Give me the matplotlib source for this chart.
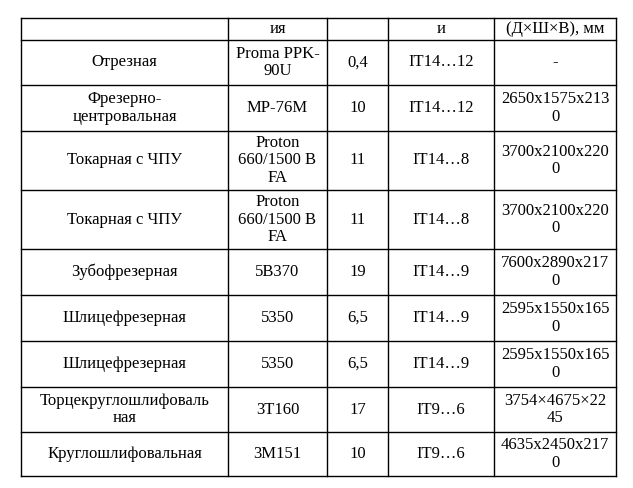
import matplotlib
matplotlib.use("Agg")
import matplotlib.pyplot as plt

plt.rcParams['font.family'] = ['Liberation Serif', 'DejaVu Serif']

header = ["", "ия", "", "и", "(Д×Ш×В), мм"]
names = ["Отрезная", "Фрезерно-\nцентровальная", "Токарная с ЧПУ", "Токарная с ЧПУ",
         "Зубофрезерная", "Шлицефрезерная", "Шлицефрезерная",
         "Торцекруглошлифоваль\nная", "Круглошлифовальная"]
models = ["Proma PPK-\n90U", "МР-76М", "Proton\n660/1500 B\nFA", "Proton\n660/1500 B\nFA",
          "5В370", "5350", "5350", "3Т160", "3М151"]
power = ["0,4", "10", "11", "11", "19", "6,5", "6,5", "17", "10"]
accuracy = ["IT14…12", "IT14…12", "IT14…8", "IT14…8", "IT14…9", "IT14…9", "IT14…9",
            "IT9…6", "IT9…6"]
dims = ["-", "2650x1575x213\n0", "3700x2100x220\n0", "3700x2100x220\n0",
        "7600x2890x217\n0", "2595x1550x165\n0", "2595x1550x165\n0",
        "3754×4675×22\n45", "4635x2450x217\n0"]

# layout in pixels
col_x = [21, 228, 327, 388, 494, 616]
row_y = [18, 40, 85, 131, 190, 249, 295, 341, 387, 432, 476]

fig = plt.figure(figsize=(6.33, 4.88), dpi=100)
ax = fig.add_axes([0, 0, 1, 1])
ax.set_xlim(0, 633)
ax.set_ylim(488, 0)
ax.axis('off')

for x in col_x:
    ax.plot([x, x], [row_y[0], row_y[-1]], color='black', lw=1)
for y in row_y:
    ax.plot([col_x[0], col_x[-1]], [y, y], color='black', lw=1)

rows = [header] + [list(r) for r in zip(names, models, power, accuracy, dims)]
for i, row in enumerate(rows):
    yc = (row_y[i] + row_y[i + 1]) / 2
    for j, txt in enumerate(row):
        ax.text((col_x[j] + col_x[j + 1]) / 2, yc, txt, ha='center', va='center',
                multialignment='center', fontsize=12, linespacing=1.1)

fig.savefig("out.png", dpi=100)
